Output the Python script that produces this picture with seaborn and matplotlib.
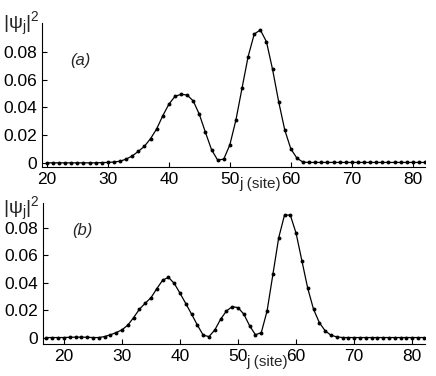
import numpy as np
import pandas as pd
import matplotlib
matplotlib.use("Agg")
import matplotlib.pyplot as plt
import seaborn as sns
from matplotlib.ticker import FuncFormatter

sns.set_style("ticks")
plt.rcParams['font.family'] = ['Liberation Sans', 'DejaVu Sans']
plt.rcParams['mathtext.fontset'] = 'custom'
plt.rcParams['mathtext.rm'] = 'Liberation Sans'
plt.rcParams['mathtext.it'] = 'Liberation Sans:italic'

# ---- data ----
sites_a = list(range(20, 83))
psi2_a = ([0.0, 0.0, 0.0, 0.0, 0.0, 0.0, 0.0, 0.0, 0.0, 0.0002,
           0.0003, 0.0006, 0.0012, 0.0027, 0.005, 0.0083, 0.012, 0.0175, 0.0245, 0.034,
           0.0423, 0.048, 0.0495, 0.049, 0.0447, 0.035, 0.022, 0.0095, 0.002, 0.0027,
           0.013, 0.031, 0.054, 0.0768, 0.093, 0.096, 0.0875, 0.0676, 0.0443, 0.0238,
           0.0101, 0.0034, 0.0005]
          + [0.0003] * 20)

sites_b = list(range(17, 83))
psi2_b = ([0.0, 0.0, 0.0, 0.0, 0.0002, 0.0003, 0.0003, 0.0002, 0.0, 0.0,
           0.0007, 0.002, 0.0036, 0.0056, 0.009, 0.0145, 0.0206, 0.025, 0.029, 0.0356,
           0.0417, 0.0439, 0.0395, 0.0323, 0.0247, 0.017, 0.009, 0.0017, 0.0007, 0.0056,
           0.0134, 0.0194, 0.0225, 0.0218, 0.017, 0.0085, 0.002, 0.0036, 0.0194, 0.046,
           0.0727, 0.0892, 0.0892, 0.0759, 0.0558, 0.0359, 0.0206, 0.0109, 0.0049, 0.0017,
           0.0005]
          + [0.0] * 15)

xticks = [20, 30, 40, 50, 60, 70, 80]
yticks = [0, 0.02, 0.04, 0.06, 0.08]
panel_labels = ["(a)", "(b)"]

df_a = pd.DataFrame({"j": sites_a, "p": psi2_a})
df_b = pd.DataFrame({"j": sites_b, "p": psi2_b})

W, H = 436, 376
fig = plt.figure(figsize=(W / 100, H / 100), dpi=100)

def px(x0, y0, x1, y1):
    return [x0 / W, 1 - y1 / H, (x1 - x0) / W, (y1 - y0) / H]

ax1 = fig.add_axes(px(42, 23, 425, 167))
ax2 = fig.add_axes(px(43, 203, 425, 344))

fmt = FuncFormatter(lambda v, p: "0" if abs(v) < 1e-9 else f"{v:.2f}")

for ax, df, xl, yl, lab, lpos in [
    (ax1, df_a, (19.2, 82.0), (-0.003, 0.101), panel_labels[0], (80, 60)),
    (ax2, df_b, (16.4, 82.2), (-0.0047, 0.098), panel_labels[1], (82, 230)),
]:
    sns.lineplot(data=df, x="j", y="p", ax=ax, color="black", linewidth=0.9,
                 marker="o", markersize=2.8, markeredgewidth=0, clip_on=True)
    ax.set_xlim(*xl)
    ax.set_ylim(*yl)
    ax.set_xticks(xticks)
    ax.set_yticks(yticks)
    ax.yaxis.set_major_formatter(fmt)
    ax.set_xlabel("")
    ax.set_ylabel("")
    for s in ["top", "right"]:
        ax.spines[s].set_visible(False)
    for s in ["left", "bottom"]:
        ax.spines[s].set_linewidth(0.8)
        ax.spines[s].set_color("black")
    ax.tick_params(direction="in", length=3.5, width=0.8, labelsize=12.5,
                   colors="black", pad=3.5)
    fig.text(lpos[0] / W, 1 - lpos[1] / H, lab, fontsize=12, style="italic",
             ha="center", va="center")

# y labels |psi_j|^2
fig.text(3 / W, 1 - 24 / H, r"$|\mathrm{\psi}_\mathrm{j}|^2$", fontsize=14,
         ha="left", va="center")
fig.text(3 / W, 1 - 209 / H, r"$|\mathrm{\psi}_\mathrm{j}|^2$", fontsize=14,
         ha="left", va="center")

# x labels "j (site)"
fig.text(239 / W, 1 - 184 / H, "j (site)", fontsize=11, ha="left", va="center")
fig.text(246 / W, 1 - 362 / H, "j (site)", fontsize=11, ha="left", va="center")

fig.savefig("out.png", dpi=100)
